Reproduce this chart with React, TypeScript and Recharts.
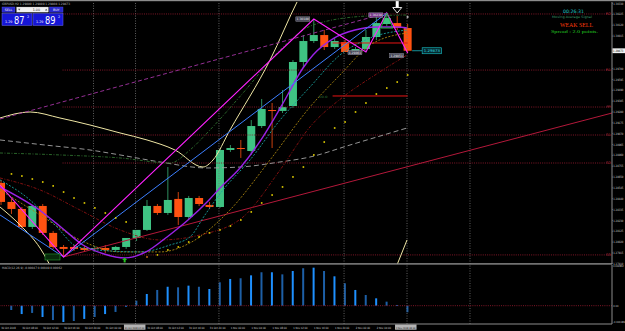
import React from 'react';
import { ComposedChart, Bar, Line, XAxis, YAxis, ReferenceLine, ReferenceDot, Cell } from 'recharts';

const FONT = '"DejaVu Sans", sans-serif';
const COND = '"DejaVu Sans Condensed", "Liberation Sans Narrow", "DejaVu Sans", sans-serif';
const SERIF = '"Liberation Serif", serif';

// ---------------- data ----------------
const symbolTitle = 'GBPUSD,H2  1.29880 1.29889 1.29808 1.29873';

const candleOpen = [1.28593, 1.28409, 1.28341, 1.28167, 1.28370, 1.28109, 1.27973, 1.27973, 1.27963, 1.27954, 1.27963, 1.27944, 1.27973, 1.28060, 1.28138, 1.28370, 1.28302, 1.28438, 1.28263, 1.28447, 1.28380, 1.28360, 1.28912, 1.28931, 1.28902, 1.29144, 1.29299, 1.29290, 1.29338, 1.29764, 1.29967, 1.30025, 1.29909, 1.29957, 1.29870, 1.29890, 1.30006, 1.30132, 1.30141, 1.30093];
const candleHigh = [1.28622, 1.28438, 1.28360, 1.28380, 1.28389, 1.28128, 1.27992, 1.27992, 1.27983, 1.27983, 1.27992, 1.27983, 1.27992, 1.28080, 1.28428, 1.28389, 1.28747, 1.28505, 1.28467, 1.28467, 1.28409, 1.28922, 1.28960, 1.29009, 1.29202, 1.29406, 1.29367, 1.29493, 1.29783, 1.30025, 1.30180, 1.30074, 1.29996, 1.29977, 1.29909, 1.30074, 1.30219, 1.30238, 1.30209, 1.30132];
const candleLow = [1.28380, 1.28293, 1.28147, 1.28147, 1.28089, 1.27954, 1.27876, 1.27934, 1.27925, 1.27925, 1.27915, 1.27925, 1.27954, 1.28031, 1.28128, 1.28283, 1.28283, 1.28186, 1.28244, 1.28370, 1.28341, 1.28351, 1.28893, 1.28835, 1.28864, 1.29125, 1.28931, 1.29270, 1.29319, 1.29706, 1.29948, 1.29880, 1.29890, 1.29861, 1.29861, 1.29861, 1.29977, 1.30112, 1.30074, 1.29851];
const candleClose = [1.28409, 1.28341, 1.28167, 1.28370, 1.28109, 1.27973, 1.27954, 1.27954, 1.27944, 1.27963, 1.27944, 1.27973, 1.28060, 1.28138, 1.28370, 1.28302, 1.28428, 1.28263, 1.28447, 1.28389, 1.28360, 1.28912, 1.28931, 1.28922, 1.29144, 1.29309, 1.29290, 1.29328, 1.29764, 1.29967, 1.30025, 1.29909, 1.29967, 1.29861, 1.29890, 1.30006, 1.30141, 1.30190, 1.30093, 1.29873];

const macdHist = [null, -0.00031, -0.00060, -0.00052, -0.00081, -0.00103, -0.00117, -0.00110, -0.00095, -0.00081, -0.00060, -0.00045, -0.00007, 0.00036, 0.00084, 0.00113, 0.00136, 0.00132, 0.00144, 0.00136, 0.00120, 0.00168, 0.00192, 0.00197, 0.00218, 0.00240, 0.00240, 0.00225, 0.00249, 0.00269, 0.00273, 0.00249, 0.00211, 0.00161, 0.00113, 0.00077, 0.00053, 0.00029, 0.00005, -0.00047];
const macdTitle = 'MACD(12,26,9) -0.00047 0.00089 0.00062';
const macdTicks = [0.002832, 0, -0.001189];
const macdTickText = ['0.002832', '0.00', '-0.001189'];

const timeTickIdx = [0, 2, 4, 6, 8, 10, 12, 14, 16, 18, 20, 22, 24, 26, 28, 30, 32, 34, 36, 38];
const timeTickLabels = ['30 Oct 2018', '30 Oct 08:00', '30 Oct 12:00', '30 Oct 16:00', '30 Oct 20:00', '31 Oct 00:00', '31 Oct 2018 04:00', '31 Oct 08:00', '31 Oct 12:00', '31 Oct 16:00', '31 Oct 20:00', '1 Nov 00:00', '1 Nov 04:00', '1 Nov 08:00', '1 Nov 12:00', '1 Nov 16:00', '1 Nov 20:00', '2 Nov 00:00', '2 Nov 04:00', '2 Nov 2018 08:00'];
const boxedTimeTicks = [12, 38];

const priceTicks = [1.30330, 1.30225, 1.30120, 1.30015, 1.29873, 1.29700, 1.29595, 1.29490, 1.29385, 1.29280, 1.29175, 1.29070, 1.28965, 1.28860, 1.28755, 1.28650, 1.28545, 1.28440, 1.28335, 1.28230, 1.28125, 1.28020, 1.27915, 1.27810];
const currentPrice = 1.29873;

const pivotNames = ['R2', 'R1', 'PP', 'S1', 'S2', 'S3'];
const pivotLevels = [1.30229, 1.29686, 1.29328, 1.29057, 1.28786, 1.27896];
const pivotStart = 5.9;

const redLevels = [1.29948, 1.29435];
const redLevelSpan = [31.8, 39];
const redLevelText = '50.0';
const trendLine = [[6, 1.27876], [58.6, 1.29270]];
const separators = [8.87, 12.9, 20.9, 32.9, 38.94, 44.98];

const sarIdx = [1, 2, 3, 4, 5, 6, 7, 8, 9, 10, 11, 12, 14, 15, 16, 17, 18, 19, 20, 21, 22, 23, 24, 25, 26, 27, 28, 29, 30, 31, 32, 33, 34, 35, 36, 37, 38, 39];
const sarVal = [1.28680, 1.28660, 1.28631, 1.28602, 1.28564, 1.28505, 1.28447, 1.28399, 1.28351, 1.28302, 1.28254, 1.28215, 1.27876, 1.27896, 1.27944, 1.27973, 1.28021, 1.28070, 1.28109, 1.28138, 1.28176, 1.28234, 1.28312, 1.28399, 1.28476, 1.28554, 1.28651, 1.28747, 1.28864, 1.28989, 1.29125, 1.29183, 1.29280, 1.29367, 1.29454, 1.29512, 1.29570, 1.29638];

const purpleMA = [[-0.1, 1.28554], [3.93, 1.28312], [5.85, 1.28157], [7.86, 1.27992], [9.88, 1.27905], [11.89, 1.27867], [13.9, 1.27925], [15.92, 1.28070], [17.93, 1.28234], [19.95, 1.28428], [21.0, 1.28544], [22.92, 1.28738], [24.93, 1.29009], [26.95, 1.29348], [28.96, 1.29706], [29.92, 1.29832], [31.94, 1.29996], [33.95, 1.30074], [35.96, 1.30103], [37.98, 1.30103], [38.94, 1.30093]];
const tealMA = [[-0.1, 1.28622], [2.78, 1.28428], [5.18, 1.28186], [7.38, 1.27973], [10.45, 1.27934], [13.33, 1.27925], [16.21, 1.27992], [18.12, 1.28070], [19.56, 1.28283], [21.29, 1.28525], [23.88, 1.28815], [26.76, 1.29202], [29.63, 1.29522], [32.51, 1.29832], [35.39, 1.29996], [38.94, 1.30074]];
const oliveMA = [[-0.1, 1.28525], [3.74, 1.28283], [7.57, 1.28041], [11.41, 1.27925], [15.25, 1.27925], [18.12, 1.28012], [21.96, 1.28331], [25.8, 1.28815], [29.63, 1.29328], [32.51, 1.29638], [35.39, 1.29928], [38.94, 1.30045]];
const darkRedMA = [[-0.1, 1.28641], [3.74, 1.28525], [7.57, 1.28331], [11.41, 1.28138], [15.25, 1.28041], [19.08, 1.28089], [23.21, 1.28263], [26.76, 1.28718], [29.63, 1.29135], [32.8, 1.29425], [35.87, 1.29638], [38.94, 1.29832]];
const darkGreenMA = [[-0.1, 1.28883], [5.65, 1.28864], [11.41, 1.28835], [16.21, 1.28786], [18.12, 1.28912], [20.04, 1.29106], [23.21, 1.29464], [26.76, 1.29880], [29.92, 1.30122], [35.1, 1.30209], [38.94, 1.30219]];
const greyMA = [[-0.1, 1.29009], [4.22, 1.28960], [8.53, 1.28912], [11.41, 1.28864], [15.25, 1.28796], [19.75, 1.28738], [22.92, 1.28747], [26.76, 1.28796], [29.63, 1.28844], [33.47, 1.28960], [38.94, 1.29125]];
const upperBand = [[-0.1, 1.29222], [2.78, 1.29280], [5.65, 1.29222], [8.53, 1.29154], [11.41, 1.29077], [14.0, 1.29009], [16.68, 1.28912], [19.37, 1.28747], [20.33, 1.28815], [21.96, 1.29106], [25.8, 1.29783], [28.48, 1.30364], [30.59, 1.30751]];
const lowerBandLeft = [[-0.1, 1.28360], [1.82, 1.28186], [3.74, 1.27963], [5.18, 1.27702]];
const lowerBandRight = [[37.3, 1.27605], [37.98, 1.27799], [38.94, 1.28041]];
const zigzag = [[-0.1, 1.28573], [6, 1.27876], [30, 1.30180], [35, 1.29861], [37, 1.30238], [39, 1.29851]];
const blueLine = [[-0.1, 1.28283], [6, 1.27876], [37, 1.30238]];
const dashedTrend = [[-0.1, 1.29212], [37, 1.30238]];

// ---------------- helpers ----------------
const X_DOMAIN: [number, number] = [-0.1, 58.6];
const MAIN_DOMAIN: [number, number] = [1.27808, 1.30345];
const MACD_DOMAIN: [number, number] = [-0.001314, 0.002922];
const BODY_W = 8;

const toPts = (arr: number[][]) => arr.map(([i, v]) => ({ i, v }));

const candleRows = candleOpen.map((o, i) => ({
  i, o, hi: candleHigh[i], lo: candleLow[i], c: candleClose[i], range: [candleLow[i], candleHigh[i]],
}));
const macdRows = macdHist.map((m, i) => ({ i, m }));

const CandleShape = (props: any) => {
  const { x, y, width, height, payload } = props;
  if (x == null || y == null || !payload) return null;
  const top = Math.min(y, y + height);
  const h = Math.abs(height);
  const { o, hi, lo, c } = payload;
  const up = c >= o;
  const k = hi > lo ? h / (hi - lo) : 0;
  const bodyTop = top + (hi - Math.max(o, c)) * k;
  const bodyH = Math.max(1, Math.abs(c - o) * k);
  const cx = x + (width || 0) / 2;
  return (
    <g>
      <line x1={cx} x2={cx} y1={top} y2={top + h} stroke={up ? '#2f8f5f' : '#c8400f'} strokeWidth={1} />
      <rect x={cx - BODY_W / 2} y={bodyTop} width={BODY_W} height={bodyH} fill={up ? '#3fc383' : '#ff5211'} />
    </g>
  );
};

const PriceTick = (props: any) => {
  const { y, payload } = props;
  const v = payload.value;
  if (Math.abs(v - currentPrice) < 1e-7) {
    return (
      <g>
        <rect x={612.5} y={y - 2.4} width={12.5} height={4.8} fill="#f2f2f2" />
        <text x={613.1} y={y + 1.2} fontSize={3} fill="#000" fontFamily={COND} textLength={10.2} lengthAdjust="spacingAndGlyphs">{v.toFixed(5)}</text>
      </g>
    );
  }
  return (
    <g>
      <line x1={612} x2={613} y1={y} y2={y} stroke="#8c8c8c" strokeWidth={0.5} />
      <text x={613.3} y={y + 1.1} fontSize={3} fill="#d0d0d0" fontFamily={COND} textLength={10} lengthAdjust="spacingAndGlyphs">{v.toFixed(5)}</text>
    </g>
  );
};

const MacdTick = (props: any) => {
  const { y, payload } = props;
  const idx = macdTicks.indexOf(payload.value);
  const t = idx >= 0 ? macdTickText[idx] : '';
  return (
    <text x={613.2} y={y + 1.1} fontSize={2.8} fill="#d0d0d0" fontFamily={COND} textLength={t.length * 1.3} lengthAdjust="spacingAndGlyphs">{t}</text>
  );
};

const TimeTick = (props: any) => {
  const { x, payload } = props;
  const idx = timeTickIdx.indexOf(payload.value);
  if (idx < 0) return null;
  const label = timeTickLabels[idx];
  const boxed = boxedTimeTicks.includes(payload.value);
  const w = boxed ? 19.5 : label.length * 1.3;
  return (
    <g>
      {boxed && <rect x={x - 2.2} y={60.5} width={w + 2} height={5.2} fill="#b4b4b4" />}
      <text x={boxed ? x - 1.3 : x + 0.3} y={64.6} fontSize={boxed ? 2.4 : 2.9} fill={boxed ? '#111' : '#d4d4d4'} fontFamily={COND} textLength={w} lengthAdjust="spacingAndGlyphs">{label}</text>
    </g>
  );
};

const PriceBox = ({ cx, cy, dy, text, fill }: any) => (
  <g>
    <rect x={cx - 18} y={cy + dy - 2.2} width={14} height={4.4} fill={fill} stroke="#a8a8b8" strokeWidth={0.4} />
    <text x={cx - 17.2} y={cy + dy + 1.2} fontSize={3} fill="#ececec" fontFamily={COND} textLength={12.4} lengthAdjust="spacingAndGlyphs">{text}</text>
  </g>
);

const maLine = (key: string, pts: number[][], color: string, dash?: string, width = 1, type: any = 'monotone') => (
  <Line key={key} data={toPts(pts)} dataKey="v" type={type} stroke={color} strokeWidth={width} strokeDasharray={dash}
    dot={false} activeDot={false} isAnimationActive={false} />
);

export default function App() {
  return (
    <div style={{ position: 'absolute', left: 0, top: 0, width: 625, height: 331, background: '#000', overflow: 'hidden' }}>
      <div style={{ position: 'absolute', left: 0, top: 0 }}>
        <ComposedChart width={625} height={268} data={candleRows} margin={{ top: 2, right: 0, bottom: 4, left: 0 }}>
          <XAxis dataKey="i" type="number" domain={X_DOMAIN} hide allowDataOverflow />
          <YAxis orientation="right" width={13} type="number" domain={MAIN_DOMAIN} allowDataOverflow ticks={priceTicks}
            interval={0} tick={PriceTick} axisLine={{ stroke: '#8c8c8c' }} tickLine={false} />
          {separators.map((s) => (
            <ReferenceLine key={'sep' + s} x={s} stroke="#777" strokeDasharray="1 1.5" strokeWidth={0.8} />
          ))}
          {pivotLevels.map((lv, k) => (
            <ReferenceLine key={'pv' + k} segment={[{ x: pivotStart, y: lv }, { x: X_DOMAIN[1], y: lv }]} stroke="#8e1a2c"
              strokeDasharray="1 1.2" strokeWidth={0.9}
              label={{ value: pivotNames[k], position: 'insideRight', offset: 1.5, fill: '#b02a3c', fontSize: 3.6, fontFamily: FONT }} />
          ))}
          <ReferenceLine segment={[{ x: trendLine[0][0], y: trendLine[0][1] }, { x: trendLine[1][0], y: trendLine[1][1] }]} stroke="#b3183a" strokeWidth={1} />
          {redLevels.map((lv, k) => (
            <ReferenceLine key={'rl' + k} segment={[{ x: redLevelSpan[0], y: lv }, { x: redLevelSpan[1], y: lv }]} stroke="#e81414" strokeWidth={1} />
          ))}
          {maLine('grey', greyMA, '#a4a4a4', '5 3', 0.9)}
          {maLine('dgreen', darkGreenMA, '#2e6e2e', '3 1.5 1 1.5', 0.9)}
          {maLine('dred', darkRedMA, '#8e1212', '3 1.5 1 1.5', 0.9)}
          {maLine('olive', oliveMA, '#a88510', '2 1.5', 0.9)}
          {maLine('teal', tealMA, '#1aa3a0', '2 1.5', 0.9)}
          {maLine('upper', upperBand, '#efe6a4', undefined, 1)}
          {maLine('lowerL', lowerBandLeft, '#efe6a4', undefined, 1)}
          {maLine('lowerR', lowerBandRight, '#efe6a4', undefined, 1, 'linear')}
          {maLine('dtrend', dashedTrend, '#a434a4', '4 2.5', 0.9, 'linear')}
          <Bar dataKey="range" barSize={8} shape={CandleShape} isAnimationActive={false} />
          {maLine('purple', purpleMA, '#9a22e6', undefined, 1.4)}
          {maLine('blue', blueLine, '#3c7fff', undefined, 1, 'linear')}
          {maLine('zig', zigzag, '#ff22ff', undefined, 1.1, 'linear')}
          {sarIdx.map((si, k) => (
            <ReferenceDot key={'sar' + si} x={si} y={sarVal[k]} r={1}
              shape={(p: any) => <rect x={p.cx - 0.8} y={p.cy - 0.8} width={1.6} height={1.6} fill={si === 14 ? '#e07a18' : '#e8d400'} />} />
          ))}
          <ReferenceDot x={zigzag[2][0]} y={zigzag[2][1]} r={1} shape={(p: any) => <PriceBox cx={p.cx} cy={p.cy} dy={0} text={zigzag[2][1].toFixed(5)} fill="#4a4a5a" />} />
          <ReferenceDot x={zigzag[4][0]} y={zigzag[4][1]} r={1} shape={(p: any) => <PriceBox cx={p.cx} cy={p.cy} dy={2} text={zigzag[4][1].toFixed(5)} fill="#7a3a8a" />} />
          <ReferenceDot x={zigzag[3][0]} y={zigzag[3][1]} r={1} shape={(p: any) => <PriceBox cx={p.cx} cy={p.cy} dy={0.6} text={zigzag[3][1].toFixed(5)} fill="#4a4a5a" />} />
          <ReferenceDot x={zigzag[5][0]} y={zigzag[5][1]} r={1} shape={(p: any) => <PriceBox cx={p.cx} cy={p.cy} dy={2.6} text={zigzag[5][1].toFixed(5)} fill="#4a4a5a" />} />
          <ReferenceDot x={39} y={candleClose[39]} r={1} shape={(p: any) => (
            <g>
              <line x1={p.cx + 4.5} x2={p.cx + 14.5} y1={p.cy} y2={p.cy} stroke="#19b8c0" strokeWidth={0.8} />
              <rect x={p.cx + 14.5} y={p.cy - 3} width={19.5} height={6} fill="#052a2e" stroke="#19c4cc" strokeWidth={0.6} />
              <text x={p.cx + 16} y={p.cy + 1.4} fontSize={3.8} fill="#30d8e0" fontFamily={COND} textLength={16.5} lengthAdjust="spacingAndGlyphs">{candleClose[39].toFixed(5)}</text>
            </g>
          )} />
          <ReferenceDot x={redLevelSpan[0]} y={redLevels[1]} r={1} shape={(p: any) => (
            <text x={p.cx - 14} y={p.cy + 2.4} fontSize={3.2} fill="#2f7a3a" fontFamily={FONT} textLength={9} lengthAdjust="spacingAndGlyphs">{redLevelText}</text>
          )} />
          <ReferenceDot x={38} y={candleHigh[38]} r={1} shape={(p: any) => (
            <g>
              <rect x={p.cx - 1.5} y={p.cy - 16} width={3} height={8} fill="#fff" />
              <polygon points={`${p.cx - 4.5},${p.cy - 8.5} ${p.cx + 4.5},${p.cy - 8.5} ${p.cx},${p.cy - 3}`} fill="#000" stroke="#fff" strokeWidth={0.9} />
            </g>
          )} />
          <ReferenceDot x={37} y={candleHigh[37]} r={1} shape={(p: any) => (
            <polygon points={`${p.cx},${p.cy} ${p.cx - 6},${p.cy + 15} ${p.cx + 6},${p.cy + 15}`} fill="none" stroke="#22c24a" strokeWidth={0.9} />
          )} />
          <ReferenceDot x={39} y={candleHigh[39]} r={1} shape={(p: any) => (
            <g stroke="#fff" strokeWidth={0.6}>
              <line x1={p.cx - 1.3} x2={p.cx + 1.3} y1={p.cy - 7} y2={p.cy - 7} />
              <line x1={p.cx} x2={p.cx} y1={p.cy - 8.3} y2={p.cy - 5.7} />
            </g>
          )} />
          <ReferenceDot x={12} y={candleLow[12]} r={1} shape={(p: any) => (
            <g fill="#22c21e">
              <polygon points={`${p.cx - 1.5},${p.cy + 8.5} ${p.cx - 4},${p.cy + 11} ${p.cx + 1},${p.cy + 11}`} />
              <rect x={p.cx - 2.5} y={p.cy + 11} width={2} height={2.5} />
            </g>
          )} />
          <ReferenceDot x={6} y={candleLow[6]} r={1} shape={(p: any) => (
            <rect x={p.cx - 18.6} y={p.cy - 3} width={15} height={6} fill="#072a0a" stroke="#2a9a32" strokeWidth={0.6} />
          )} />
        </ComposedChart>
      </div>

      <div style={{ position: 'absolute', left: 0, top: 264 }}>
        <ComposedChart width={625} height={67} data={macdRows} margin={{ top: 1, right: 0, bottom: 0, left: 0 }}>
          <XAxis dataKey="i" type="number" domain={X_DOMAIN} allowDataOverflow ticks={timeTickIdx} interval={0} height={7}
            tick={TimeTick} axisLine={{ stroke: '#8c8c8c' }} tickLine={false} />
          <YAxis orientation="right" width={13} type="number" domain={MACD_DOMAIN} allowDataOverflow ticks={macdTicks} interval={0}
            tick={MacdTick} axisLine={{ stroke: '#8c8c8c' }} tickLine={false} />
          {separators.map((s) => (
            <ReferenceLine key={'msep' + s} x={s} stroke="#777" strokeDasharray="1 1.5" strokeWidth={0.8} />
          ))}
          <ReferenceLine y={0} stroke="#8e1a2c" strokeDasharray="1 1.2" strokeWidth={0.9} />
          <Bar dataKey="m" barSize={2} isAnimationActive={false}>
            {macdRows.map((r) => (
              <Cell key={'mc' + r.i} fill={r.i % 2 === 1 ? '#1d5fa6' : '#1e90ff'} />
            ))}
          </Bar>
        </ComposedChart>
      </div>

      <svg width={625} height={331} style={{ position: 'absolute', left: 0, top: 0, pointerEvents: 'none' }}>
        <rect x={0} y={0} width={625} height={1.2} fill="#8c8c8c" />
        <rect x={0} y={263.2} width={612} height={1.4} fill="#8c8c8c" />
        <text x={2} y={4.8} fontSize={3} fill="#bdbdbd" fontFamily={COND} textLength={68} lengthAdjust="spacingAndGlyphs">{symbolTitle}</text>
        <text x={2} y={268.8} fontSize={3} fill="#bdbdbd" fontFamily={COND} textLength={60} lengthAdjust="spacingAndGlyphs">{macdTitle}</text>

        {/* trade panel */}
        <rect x={2} y={7} width={13} height={5.2} fill="#2828cc" stroke="#5656e6" strokeWidth={0.4} />
        <text x={8.5} y={10.9} fontSize={3.2} fill="#fff" textAnchor="middle" fontFamily={FONT}>SELL</text>
        <rect x={16.5} y={7} width={32} height={5.2} fill="#f2f2f2" stroke="#8a8a8a" strokeWidth={0.3} />
        <polygon points="18,8.8 20.4,8.8 19.2,10.6" fill="#555" />
        <polygon points="45,10.6 47.4,10.6 46.2,8.8" fill="#555" />
        <text x={40} y={11} fontSize={3.3} fill="#222" textAnchor="end" fontFamily={FONT}>1.00</text>
        <rect x={49.5} y={7} width={13.5} height={5.2} fill="#2828cc" stroke="#5656e6" strokeWidth={0.4} />
        <text x={56.2} y={10.9} fontSize={3.2} fill="#fff" textAnchor="middle" fontFamily={FONT}>BUY</text>

        <rect x={2} y={13.6} width={30} height={11.8} fill="#1616d6" stroke="#6c6cf2" strokeWidth={0.5} />
        <text x={5} y={23.2} fontSize={3.3} fill="#fff" fontFamily={FONT}>1.29</text>
        <text x={14} y={24} fontSize={10} fill="#fff" fontFamily={FONT} textLength={10.5} lengthAdjust="spacingAndGlyphs">87</text>
        <text x={27} y={17.6} fontSize={3.4} fill="#fff" fontFamily={FONT}>2</text>
        <rect x={33} y={13.6} width={30} height={11.8} fill="#1616d6" stroke="#6c6cf2" strokeWidth={0.5} />
        <text x={36} y={23.2} fontSize={3.3} fill="#fff" fontFamily={FONT}>1.29</text>
        <text x={45} y={24} fontSize={10} fill="#fff" fontFamily={FONT} textLength={10.5} lengthAdjust="spacingAndGlyphs">89</text>
        <text x={58} y={17.6} fontSize={3.4} fill="#fff" fontFamily={FONT}>2</text>

        {/* signal texts */}
        <text x={573.5} y={13} fontSize={4.6} fill="#22c6cc" textAnchor="middle" fontFamily={FONT} textLength={21} lengthAdjust="spacingAndGlyphs">00:26:31</text>
        <text x={572} y={18.2} fontSize={3.2} fill="#3a9a6e" textAnchor="middle" fontFamily={FONT} textLength={40} lengthAdjust="spacingAndGlyphs">Moving Average Signal</text>
        <text x={576.5} y={27} fontSize={6.2} fill="#ff3a0a" textAnchor="middle" fontFamily={SERIF} textLength={33} lengthAdjust="spacingAndGlyphs">WEAK SELL</text>
        <text x={574.5} y={33.2} fontSize={5} fill="#22cc22" textAnchor="middle" fontFamily={SERIF} textLength={47} lengthAdjust="spacingAndGlyphs">Spread : 2.0 points.</text>
      </svg>
    </div>
  );
}
